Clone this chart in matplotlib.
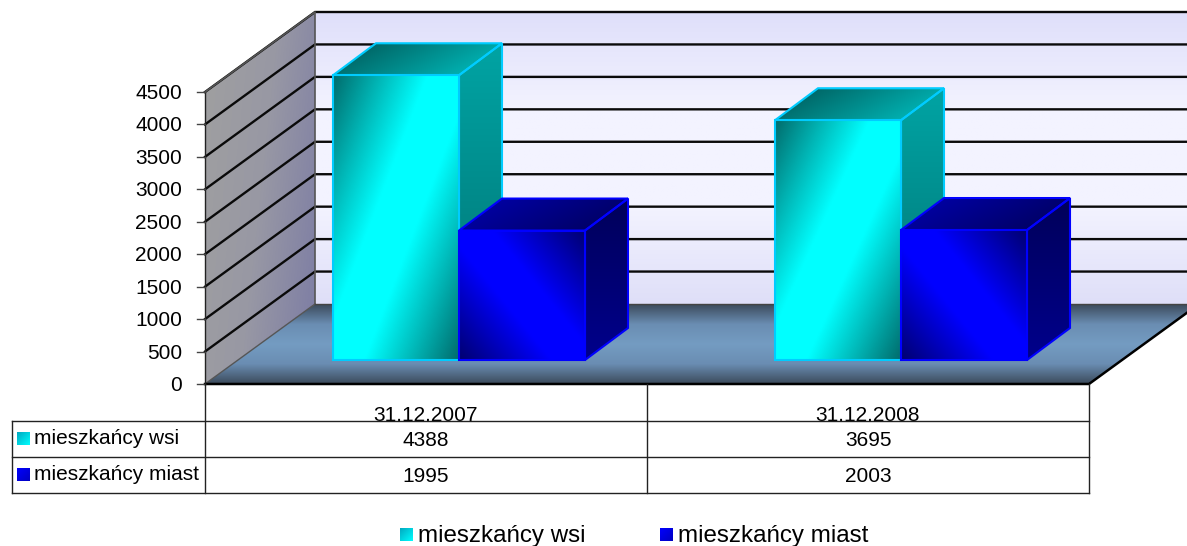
import matplotlib
matplotlib.use("Agg")
import matplotlib.pyplot as plt
from matplotlib.colors import LinearSegmentedColormap
from matplotlib.patches import Polygon, Rectangle
import numpy as np

plt.rcParams['font.family'] = ['Liberation Sans', 'DejaVu Sans']

categories = ['31.12.2007', '31.12.2008']
series_names = ['mieszkańcy wsi', 'mieszkańcy miast']
wsi = [4388, 3695]
miast = [1995, 2003]
y_ticks = [0, 500, 1000, 1500, 2000, 2500, 3000, 3500, 4000, 4500]

# layout of the fake 3d box, everything in pixels
W, H = 1187, 546
X0, X1 = 205, 1089
Y0 = 384
PX_PER_UNIT = 292 / 4500
DEPTH_X, DEPTH_Y = 110, -80
BAR_W = 126
GAP_X, GAP_Y = 33, -24
BAR_DX, BAR_DY = 43, -32

fig = plt.figure(figsize=(W / 100, H / 100), dpi=100)
ax = fig.add_axes([0, 0, 1, 1])
ax.set_xlim(0, W)
ax.set_ylim(H, 0)
ax.axis('off')


def cmap(*colors):
    return LinearSegmentedColormap.from_list('c', colors)


# fill a polygon with a gradient, angle 0 = left to right, 90 = top to bottom
def grad_poly(points, colors, angle=0, zorder=2, edge=None, lw=1.5):
    points = np.array(points, dtype=float)
    x0, y0 = points.min(axis=0)
    x1, y1 = points.max(axis=0)
    xx, yy = np.meshgrid(np.linspace(0, 1, 200), np.linspace(0, 1, 200))
    a = np.radians(angle)
    g = xx * np.cos(a) + yy * np.sin(a)
    g = (g - g.min()) / (g.max() - g.min())
    im = ax.imshow(g, extent=[x0, x1, y1, y0], cmap=cmap(*colors), vmin=0, vmax=1,
                   aspect='auto', zorder=zorder, interpolation='bilinear')
    p = Polygon(points, closed=True, fc='none', ec=edge if edge else 'none', lw=lw, zorder=zorder + 0.1)
    ax.add_patch(p)
    im.set_clip_path(p)
    ax.set_xlim(0, W)
    ax.set_ylim(H, 0)


def val_y(v):
    return Y0 - v * PX_PER_UNIT


top = max(y_ticks)
xb0, xb1 = X0 + DEPTH_X, X1 + DEPTH_X
yb0, ybt = Y0 + DEPTH_Y, val_y(top) + DEPTH_Y

# back wall, side wall, floor
grad_poly([(xb0, ybt), (xb1, ybt), (xb1, yb0), (xb0, yb0)],
          ['#dfdffa', '#f3f3ff', '#f3f3ff', '#dfdff8'], angle=90, zorder=1)
grad_poly([(X0, val_y(top)), (xb0, ybt), (xb0, yb0), (X0, Y0)],
          ['#a0a0a0', '#9898a4', '#7c7ca4'], angle=20, zorder=1)
grad_poly([(X0, Y0), (X1, Y0), (xb1, yb0), (xb0, yb0)],
          ['#3c4b5c', '#6a8db2', '#749cc2', '#6a8db2', '#3c4b5c'], angle=90, zorder=1)

# gridlines go along the side wall and then the back wall
for v in y_ticks[1:]:
    y = val_y(v)
    ax.plot([X0, xb0, xb1], [y, y + DEPTH_Y, y + DEPTH_Y], color='#0a0a0a', lw=1.7, zorder=1.5,
            solid_joinstyle='miter')
ax.plot([X0, xb0, xb0], [val_y(top), ybt, yb0], color='#555555', lw=1.2, zorder=1.5)
ax.plot([X0, xb0], [Y0, yb0], color='#555555', lw=1, zorder=1.5)
ax.plot([xb0, xb1], [yb0, yb0], color='#444444', lw=1, zorder=1.5)
ax.plot([X0, X1, xb1], [Y0, Y0, yb0], color='black', lw=1.8, zorder=1.6)

# y axis
ax.plot([X0, X0], [Y0, val_y(top)], color='#222222', lw=1, zorder=3)
for v in y_ticks:
    y = val_y(v)
    ax.plot([X0 - 8, X0], [y, y], color='#444444', lw=1, zorder=3)
    ax.text(X0 - 23, y + 1.5, str(v), ha='right', va='center', fontsize=15, color='black', zorder=5)


def bar3d(x, v, front, side, roof, edge, zorder, front_angle, roof_angle):
    base = Y0 + GAP_Y
    y = base - v * PX_PER_UNIT
    grad_poly([(x + BAR_W, y), (x + BAR_W + BAR_DX, y + BAR_DY), (x + BAR_W + BAR_DX, base + BAR_DY), (x + BAR_W, base)],
              side, angle=90, zorder=zorder, edge=edge)
    grad_poly([(x, y), (x + BAR_DX, y + BAR_DY), (x + BAR_W + BAR_DX, y + BAR_DY), (x + BAR_W, y)],
              roof, angle=roof_angle, zorder=zorder, edge=edge)
    grad_poly([(x, y), (x + BAR_W, y), (x + BAR_W, base), (x, base)],
              front, angle=front_angle, zorder=zorder + 0.2, edge=edge)


cat_w = (X1 - X0) / len(categories)
for i in range(len(categories)):
    c = X0 + cat_w * (i + 0.5) + GAP_X
    # wsi stands behind miast, the blue bar hides the foot of its side face
    bar3d(c - BAR_W, wsi[i], ['#006c6c', '#00b6b6', '#00ffff', '#00ffff', '#00b6b6', '#006c6c'],
          ['#00a4a4', '#007070'], ['#005454', '#00c4c4'], '#00ccff', 3, 41, 20)
    bar3d(c, miast[i], ['#000070', '#0000b8', '#0000ff', '#0000ff', '#0000b8', '#000070'],
          ['#00005a', '#00008c'], ['#0000b0', '#000058'], '#0000ff', 4, -40, 20)

# data table under the chart
row_y = [421, 457, 493]
tx = 12
for i, name in enumerate(categories):
    t = ax.text(X0 + cat_w * (i + 0.5), row_y[0] - 15, name, ha='center', va='top',
                fontsize=15, zorder=6, color='black')
    t.set_clip_path(Rectangle((0, 0), W, row_y[0], transform=ax.transData))
line = dict(color='#222222', lw=1, zorder=7)
ax.plot([tx, X1], [row_y[0], row_y[0]], **line)
ax.plot([tx, X1], [row_y[1], row_y[1]], **line)
ax.plot([tx, X1], [row_y[2], row_y[2]], **line)
ax.plot([tx, tx], [row_y[0], row_y[2]], **line)
ax.plot([X0, X0], [Y0, row_y[2]], **line)
ax.plot([X0 + cat_w, X0 + cat_w], [Y0, row_y[2]], **line)
ax.plot([X1, X1], [Y0, row_y[2]], **line)

rows = [wsi, miast]
swatches = [['#00a8c0', '#00ffff'], ['#0000ff', '#0000c0']]
for r, name in enumerate(series_names):
    mid = (row_y[r] + row_y[r + 1]) / 2
    grad_poly([(17, mid - 7), (30, mid - 7), (30, mid + 6), (17, mid + 6)], swatches[r], angle=45, zorder=8)
    ax.text(34, mid, name, ha='left', va='center', fontsize=15, zorder=8)
    for i, v in enumerate(rows[r]):
        ax.text(X0 + cat_w * (i + 0.5), mid + 1, str(v), ha='center', va='center', fontsize=15, zorder=8)

# legend at the bottom, it runs off the picture like in the original
leg_x = [400, 660]
for r, name in enumerate(series_names):
    grad_poly([(leg_x[r], 528), (leg_x[r] + 13, 528), (leg_x[r] + 13, 541), (leg_x[r], 541)],
              swatches[r], angle=45, zorder=8)
    ax.text(leg_x[r] + 18, 536, name, ha='left', va='center', fontsize=17.4, zorder=8)

fig.savefig('out.png', dpi=100, facecolor='white')
